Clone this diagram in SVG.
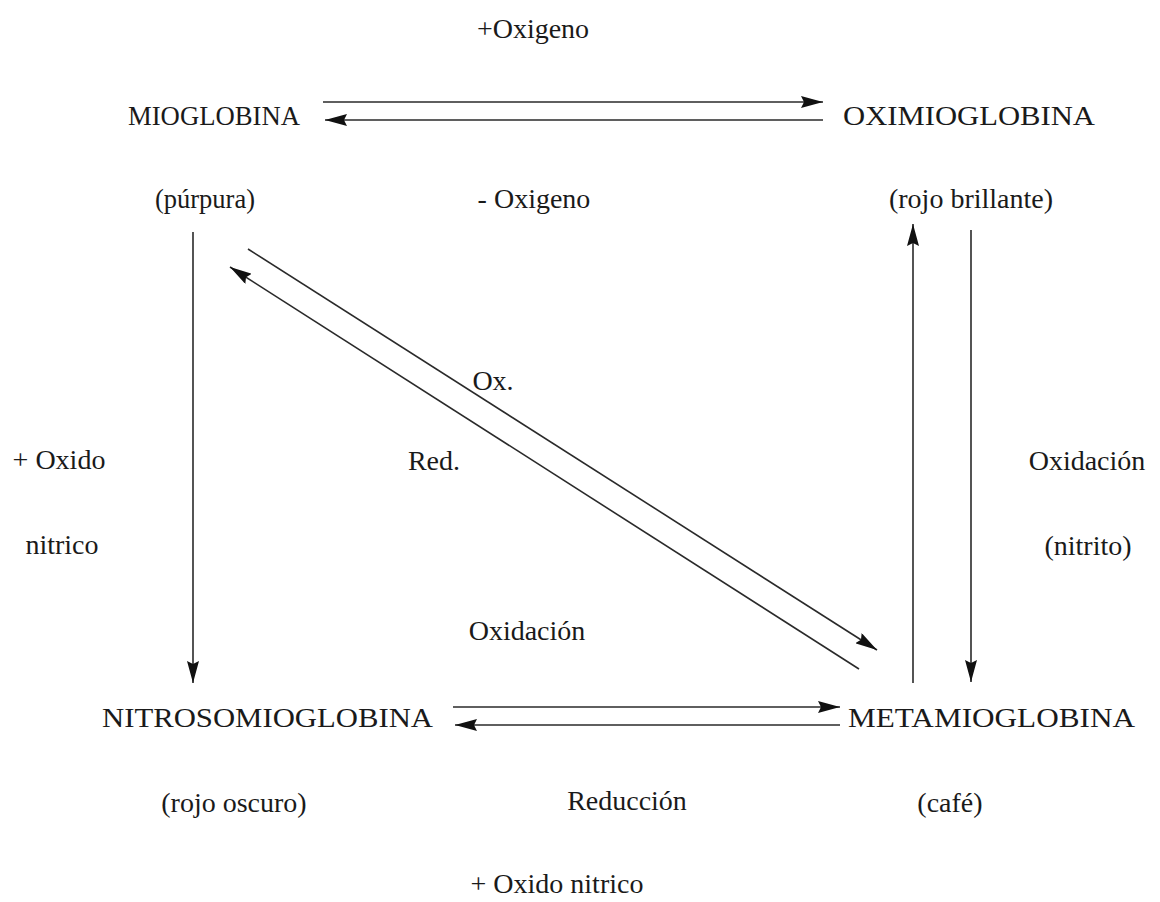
<svg xmlns="http://www.w3.org/2000/svg" width="1160" height="902" viewBox="0 0 1160 902">
<style>
text{font-family:"Liberation Serif","Times New Roman",serif;fill:#1a1a1a;font-size:28px;text-anchor:middle}
.big{font-size:28px;text-anchor:start}
.sm{font-size:26.5px}
line{stroke:#2a2a2a;stroke-width:1.6}
</style>
<defs>
<marker id="ah" viewBox="0 0 22 12" refX="22" refY="6" markerWidth="22" markerHeight="12" markerUnits="userSpaceOnUse" orient="auto">
<path d="M0,0 L22,6 L0,12 L3,6 Z" fill="#111"/>
</marker>
</defs>
<rect width="1160" height="902" fill="#fff"/>
<g id="mioglobina"><text class="big" x="128" y="125" textLength="172" lengthAdjust="spacingAndGlyphs">MIOGLOBINA</text>
<text class="sm" x="205" y="208">(púrpura)</text></g>
<g id="oximioglobina"><text class="big" x="843" y="125" textLength="252" lengthAdjust="spacingAndGlyphs">OXIMIOGLOBINA</text>
<text x="971" y="208">(rojo brillante)</text></g>
<g id="nitrosomioglobina"><text class="big" x="102" y="727" textLength="331" lengthAdjust="spacingAndGlyphs">NITROSOMIOGLOBINA</text>
<text x="234" y="812">(rojo oscuro)</text></g>
<g id="metamioglobina"><text class="big" x="848" y="727" textLength="287" lengthAdjust="spacingAndGlyphs">METAMIOGLOBINA</text>
<text x="950" y="812">(café)</text></g>
<g id="connectors">
<line x1="323" y1="102" x2="823" y2="102" marker-end="url(#ah)"/>
<line x1="823" y1="120" x2="325" y2="120" marker-end="url(#ah)"/>
<line x1="453" y1="707" x2="840" y2="707" marker-end="url(#ah)"/>
<line x1="840" y1="725" x2="455" y2="725" marker-end="url(#ah)"/>
<line x1="193" y1="232" x2="193" y2="683" marker-end="url(#ah)"/>
<line x1="913" y1="683" x2="913" y2="224" marker-end="url(#ah)"/>
<line x1="971" y1="230" x2="971" y2="682" marker-end="url(#ah)"/>
<line x1="248" y1="249" x2="877" y2="650" marker-end="url(#ah)"/>
<line x1="859" y1="669" x2="230" y2="267" marker-end="url(#ah)"/>
</g>
<g id="labels">
<text x="533" y="38">+Oxigeno</text>
<text x="534" y="208">- Oxigeno</text>
<text x="493" y="390">Ox.</text>
<text x="434" y="470">Red.</text>
<text x="527" y="640">Oxidación</text>
<text x="59" y="469">+ Oxido</text>
<text x="62" y="554">nitrico</text>
<text x="1087" y="470">Oxidación</text>
<text x="1088" y="555">(nitrito)</text>
<text x="627" y="810">Reducción</text>
<text x="557" y="893">+ Oxido nitrico</text>
</g>
</svg>
